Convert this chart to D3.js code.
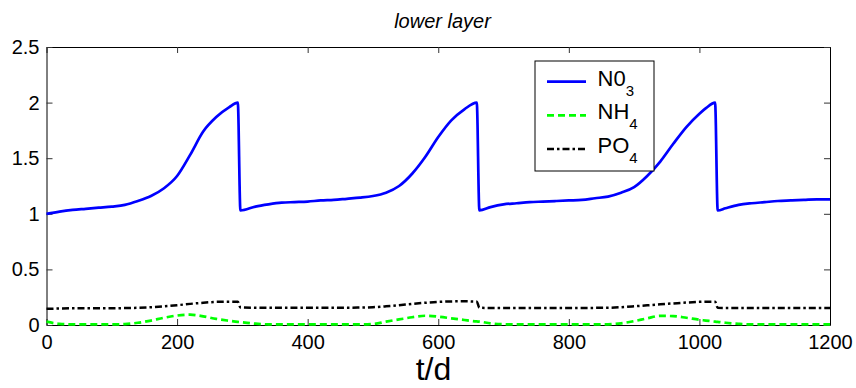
<!DOCTYPE html>
<html>
<head>
<meta charset="utf-8">
<script src="https://cdn.jsdelivr.net/npm/d3@7"></script>
<style>
  body { margin: 0; background: #fff; }
  svg { display: block; font-family: "Liberation Sans", Arial, sans-serif; }
</style>
</head>
<body>
<div id="chart"></div>
<script>
// time axis (days) shared by all three series
const days = [
  0, 20, 40, 60, 80, 100, 120, 140, 160, 180, 200, 220, 240, 260, 280, 293, 297,
  320, 340, 360, 380, 400, 420, 440, 460, 480, 500, 520, 540, 560, 580, 600, 620, 640, 659, 663,
  680, 700, 720, 740, 760, 780, 800, 820, 840, 860, 880, 900, 920, 940, 960, 980, 1000, 1010, 1024, 1028,
  1040, 1060, 1080, 1100, 1120, 1140, 1160, 1180, 1200
];

const no3 = [
  1.00, 1.02, 1.035, 1.045, 1.055, 1.065, 1.08, 1.115, 1.16, 1.23, 1.34, 1.53, 1.74, 1.87, 1.96, 2.00, 1.03,
  1.065, 1.085, 1.10, 1.105, 1.11, 1.12, 1.125, 1.135, 1.145, 1.16, 1.19, 1.25, 1.36, 1.51, 1.69, 1.84, 1.94, 2.00, 1.03,
  1.06, 1.085, 1.095, 1.105, 1.11, 1.115, 1.12, 1.125, 1.14, 1.155, 1.19, 1.24, 1.34, 1.47, 1.63, 1.78, 1.90, 1.95, 2.00, 1.03,
  1.05, 1.08, 1.095, 1.105, 1.115, 1.12, 1.125, 1.13, 1.13
];

const nh4 = [
  0.03, 0.01, 0.005, 0.005, 0.005, 0.005, 0.008, 0.02, 0.04, 0.065, 0.085, 0.093, 0.078, 0.055, 0.038, 0.028, 0.026,
  0.012, 0.006, 0.005, 0.005, 0.005, 0.005, 0.005, 0.005, 0.005, 0.008, 0.03, 0.05, 0.07, 0.083, 0.075, 0.06, 0.045, 0.032, 0.03,
  0.015, 0.007, 0.005, 0.005, 0.005, 0.005, 0.005, 0.005, 0.005, 0.006, 0.015, 0.035, 0.06, 0.082, 0.08, 0.065, 0.047, 0.04, 0.03, 0.028,
  0.02, 0.01, 0.005, 0.005, 0.005, 0.005, 0.005, 0.005, 0.005
];

const po4 = [
  0.145, 0.148, 0.15, 0.15, 0.15, 0.15, 0.152, 0.155, 0.16, 0.168, 0.178, 0.19, 0.2, 0.208, 0.21, 0.21, 0.158,
  0.155, 0.155, 0.155, 0.155, 0.155, 0.155, 0.155, 0.155, 0.157, 0.16, 0.168, 0.178, 0.19, 0.2, 0.208, 0.212, 0.213, 0.21, 0.155,
  0.153, 0.153, 0.153, 0.153, 0.153, 0.153, 0.153, 0.154, 0.154, 0.155, 0.16, 0.168, 0.177, 0.186, 0.194, 0.202, 0.208, 0.21, 0.21, 0.155,
  0.153, 0.153, 0.153, 0.153, 0.153, 0.153, 0.153, 0.153, 0.153
];

const xTicks = [0, 200, 400, 600, 800, 1000, 1200];
const xTickLabels = ['0', '200', '400', '600', '800', '1000', '1200'];
const yTicks = [0, 0.5, 1, 1.5, 2, 2.5];
const yTickLabels = ['0', '0.5', '1', '1.5', '2', '2.5'];

const width = 856;
const height = 388;
const margin = { top: 47, right: 26, bottom: 63, left: 46.5 };
const innerW = width - margin.left - margin.right;
const innerH = height - margin.top - margin.bottom;

const svg = d3.select('#chart')
  .append('svg')
  .attr('width', width)
  .attr('height', height);

const g = svg.append('g')
  .attr('transform', `translate(${margin.left}, ${margin.top})`);

const x = d3.scaleLinear().domain([0, 1200]).range([0, innerW]);
const y = d3.scaleLinear().domain([0, 2.5]).range([innerH, 0]);

// axes, ticks point inward, mirrored on top/right
const styleAxis = (sel) => {
  sel.selectAll('.domain').attr('stroke', '#000');
  sel.selectAll('.tick line').attr('stroke', '#333');
  sel.selectAll('.tick text').attr('fill', '#000').style('font-size', '20px');
};

g.append('g')
  .attr('transform', `translate(0, ${innerH})`)
  .call(d3.axisBottom(x).tickValues(xTicks).tickSizeInner(-6).tickSizeOuter(0).tickPadding(10)
    .tickFormat((d, i) => xTickLabels[i]))
  .call(styleAxis);

g.append('g')
  .call(d3.axisTop(x).tickValues(xTicks).tickSizeInner(-6).tickSizeOuter(0).tickFormat(''))
  .call(styleAxis);

g.append('g')
  .call(d3.axisLeft(y).tickValues(yTicks).tickSizeInner(-6).tickSizeOuter(0).tickPadding(7)
    .tickFormat((d, i) => yTickLabels[i]))
  .call(styleAxis);

g.append('g')
  .attr('transform', `translate(${innerW}, 0)`)
  .call(d3.axisRight(y).tickValues(yTicks).tickSizeInner(-6).tickSizeOuter(0).tickFormat(''))
  .call(styleAxis);

// series
const series = [
  { name: 'N0', sub: '3', values: no3, color: '#0000ff', width: 2.7, dash: null },
  { name: 'NH', sub: '4', values: nh4, color: '#00ff00', width: 2.7, dash: '7,4' },
  { name: 'PO', sub: '4', values: po4, color: '#000000', width: 2.5, dash: '7,3,2.5,3' }
];

const line = d3.line()
  .x((d) => x(d[0]))
  .y((d) => y(d[1]))
  .curve(d3.curveMonotoneX);

const plot = g.append('g');
series.slice().reverse().forEach((s) => {
  plot.append('path')
    .datum(days.map((t, i) => [t, s.values[i]]))
    .attr('d', line)
    .attr('fill', 'none')
    .attr('stroke', s.color)
    .attr('stroke-width', s.width)
    .attr('stroke-dasharray', s.dash);
});

// title and x label
svg.append('text')
  .attr('x', 442.5)
  .attr('y', 28)
  .attr('text-anchor', 'middle')
  .style('font-size', '20px')
  .style('font-style', 'italic')
  .text('lower layer');

svg.append('text')
  .attr('x', 433.5)
  .attr('y', 380)
  .attr('text-anchor', 'middle')
  .style('font-size', '32px')
  .text('t/d');

// legend
const legend = svg.append('g').attr('transform', 'translate(535, 61)');
legend.append('rect')
  .attr('width', 119)
  .attr('height', 110)
  .attr('fill', '#fff')
  .attr('stroke', '#000')
  .attr('stroke-width', 1);

series.forEach((s, i) => {
  const row = legend.append('g').attr('transform', `translate(0, ${20.7 + i * 33.7})`);
  row.append('line')
    .attr('x1', 12).attr('x2', 51)
    .attr('stroke', s.color)
    .attr('stroke-width', s.width)
    .attr('stroke-dasharray', s.dash);
  const txt = row.append('text')
    .attr('x', 62.5)
    .attr('y', 4)
    .style('font-size', '22px');
  txt.append('tspan').text(s.name);
  txt.append('tspan')
    .attr('dy', 10)
    .style('font-size', '15px')
    .text(s.sub);
});
</script>
</body>
</html>
